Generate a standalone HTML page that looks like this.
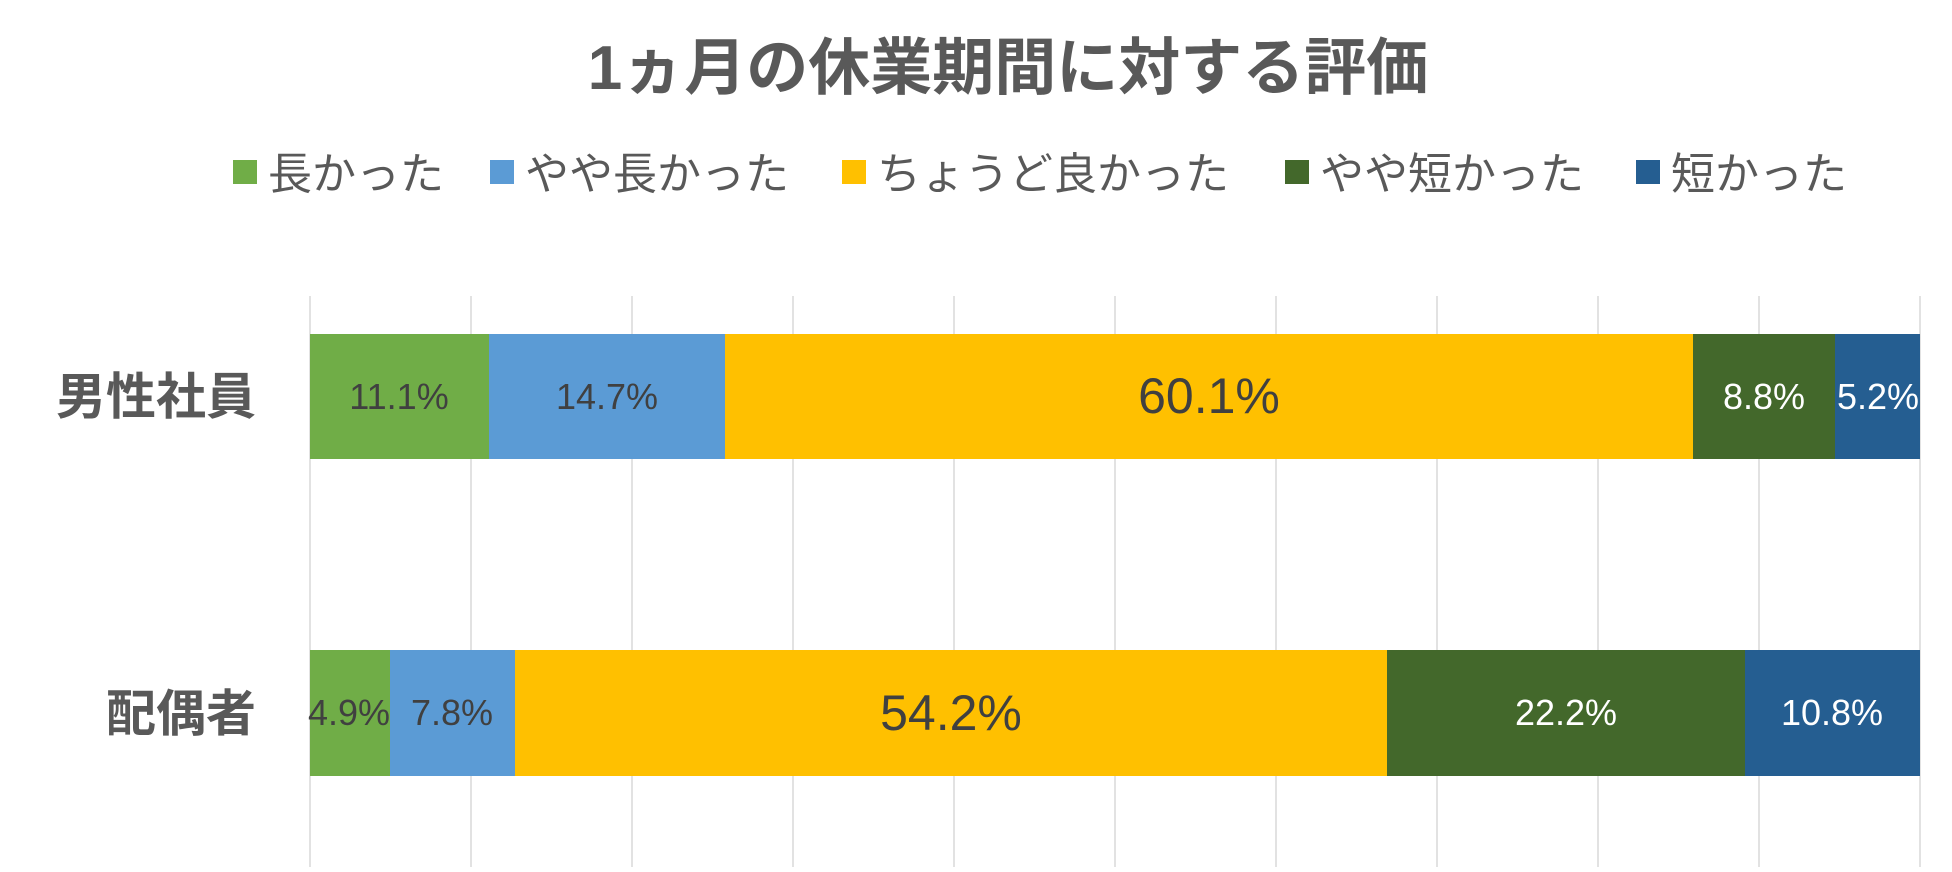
<!DOCTYPE html>
<html><head><meta charset="utf-8"><style>
body{margin:0;background:#fff;}
svg text{font-family:"Liberation Sans","Noto Sans CJK JP",sans-serif;}
</style></head><body>
<svg width="1952" height="867" xmlns="http://www.w3.org/2000/svg">
<rect width="1952" height="867" fill="#fff"/>
<text x="1008" y="89" text-anchor="middle" font-size="62" font-weight="bold" fill="#595959">1ヵ月の休業期間に対する評価</text>
<g font-size="44" fill="#595959">
<rect x="233" y="160" width="24" height="24" fill="#70AD47"/><text x="268" y="189">長かった</text>
<rect x="490" y="160" width="24" height="24" fill="#5B9BD5"/><text x="525" y="189">やや長かった</text>
<rect x="842" y="160" width="24" height="24" fill="#FFC000"/><text x="877" y="189">ちょうど良かった</text>
<rect x="1285" y="160" width="24" height="24" fill="#43682B"/><text x="1320" y="189">やや短かった</text>
<rect x="1636" y="160" width="24" height="24" fill="#255E91"/><text x="1671" y="189">短かった</text>
</g>
<g stroke="#d9d9d9" stroke-width="1.5">
<line x1="310" y1="296" x2="310" y2="867"/><line x1="471" y1="296" x2="471" y2="867"/><line x1="632" y1="296" x2="632" y2="867"/><line x1="793" y1="296" x2="793" y2="867"/><line x1="954" y1="296" x2="954" y2="867"/><line x1="1115" y1="296" x2="1115" y2="867"/><line x1="1276" y1="296" x2="1276" y2="867"/><line x1="1437" y1="296" x2="1437" y2="867"/><line x1="1598" y1="296" x2="1598" y2="867"/><line x1="1759" y1="296" x2="1759" y2="867"/><line x1="1920" y1="296" x2="1920" y2="867"/>
</g>
<g>
<rect x="310" y="334" width="179" height="125" fill="#70AD47"/>
<rect x="489" y="334" width="236" height="125" fill="#5B9BD5"/>
<rect x="725" y="334" width="968" height="125" fill="#FFC000"/>
<rect x="1693" y="334" width="142" height="125" fill="#43682B"/>
<rect x="1835" y="334" width="85" height="125" fill="#255E91"/>
<rect x="310" y="650" width="80" height="126" fill="#70AD47"/>
<rect x="390" y="650" width="125" height="126" fill="#5B9BD5"/>
<rect x="515" y="650" width="872" height="126" fill="#FFC000"/>
<rect x="1387" y="650" width="358" height="126" fill="#43682B"/>
<rect x="1745" y="650" width="175" height="126" fill="#255E91"/>
</g>
<g font-size="50" font-weight="bold" fill="#595959" text-anchor="end">
<text x="256" y="414">男性社員</text>
<text x="256" y="731">配偶者</text>
</g>
<g font-size="36" text-anchor="middle" fill="#404040">
<text x="399" y="409">11.1%</text>
<text x="607" y="409">14.7%</text>
<text x="1209" y="413" font-size="50">60.1%</text>
<text x="1764" y="409" fill="#fff">8.8%</text>
<text x="1878" y="409" fill="#fff">5.2%</text>
<text x="349" y="725">4.9%</text>
<text x="452" y="725">7.8%</text>
<text x="951" y="730" font-size="50">54.2%</text>
<text x="1566" y="725" fill="#fff">22.2%</text>
<text x="1832" y="725" fill="#fff">10.8%</text>
</g>
</svg>
</body></html>
